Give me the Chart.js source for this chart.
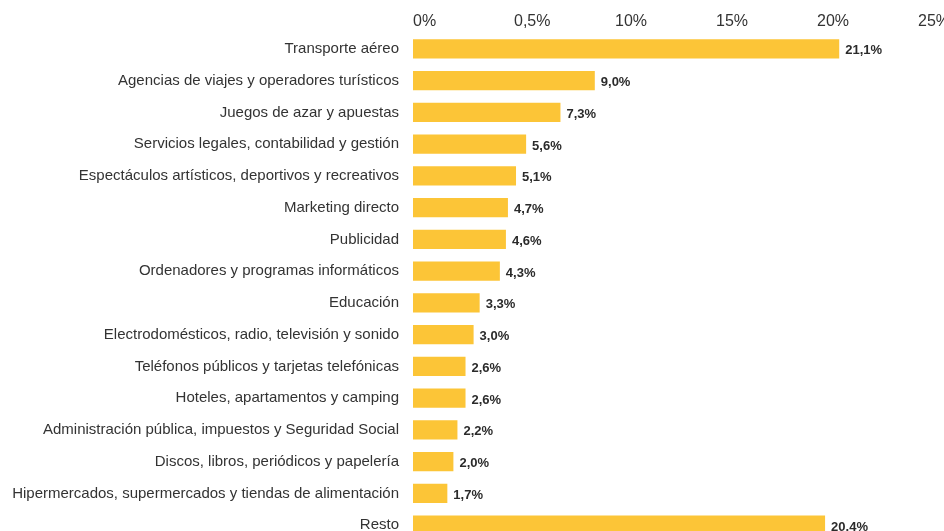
<!DOCTYPE html>
<html>
<head>
<meta charset="utf-8">
<script src="https://cdn.jsdelivr.net/npm/chart.js@4"></script>
<style>
  html, body { margin: 0; padding: 0; background: #fff; overflow: hidden; }
  canvas { display: block; }
</style>
</head>
<body>
<canvas id="chart" width="944" height="564"></canvas>
<script>
const categories = [
  "Transporte aéreo",
  "Agencias de viajes y operadores turísticos",
  "Juegos de azar y apuestas",
  "Servicios legales, contabilidad y gestión",
  "Espectáculos artísticos, deportivos y recreativos",
  "Marketing directo",
  "Publicidad",
  "Ordenadores y programas informáticos",
  "Educación",
  "Electrodomésticos, radio, televisión y sonido",
  "Teléfonos públicos y tarjetas telefónicas",
  "Hoteles, apartamentos y camping",
  "Administración pública, impuestos y Seguridad Social",
  "Discos, libros, periódicos y papelería",
  "Hipermercados, supermercados y tiendas de alimentación",
  "Resto"
];
const values = [21.1, 9.0, 7.3, 5.6, 5.1, 4.7, 4.6, 4.3, 3.3, 3.0, 2.6, 2.6, 2.2, 2.0, 1.7, 20.4];
const tickLabels = ["0%", "0,5%", "10%", "15%", "20%", "25%"];

const FONT = "'Liberation Sans', Arial, sans-serif";

const valueLabels = {
  id: "valueLabels",
  afterDatasetsDraw(chart) {
    const ctx = chart.ctx;
    const meta = chart.getDatasetMeta(0);
    ctx.save();
    ctx.font = "bold 13px " + FONT;
    ctx.fillStyle = "#2b2b2b";
    ctx.textAlign = "left";
    ctx.textBaseline = "middle";
    meta.data.forEach((bar, i) => {
      const txt = values[i].toFixed(1).replace(".", ",") + "%";
      ctx.fillText(txt, bar.x + 6, bar.y + 2);
    });
    ctx.restore();
  }
};

new Chart(document.getElementById("chart"), {
  type: "bar",
  data: {
    labels: categories,
    datasets: [{
      data: values,
      backgroundColor: "#fcc537",
      barPercentage: 0.6,
      categoryPercentage: 1
    }]
  },
  options: {
    indexAxis: "y",
    responsive: false,
    animation: false,
    layout: { padding: { left: 0, right: 26, top: 0, bottom: 0 } },
    plugins: { legend: { display: false }, tooltip: { enabled: false } },
    scales: {
      x: {
        position: "top",
        min: 0,
        max: 25,
        grid: { display: false, drawTicks: false },
        border: { display: false },
        afterFit(s) {
          s.height = 33;
          s.paddingLeft = 0;
          s.paddingRight = 0;
        },
        ticks: {
          stepSize: 5,
          align: "start",
          padding: 2,
          color: "#333",
          font: { family: FONT, size: 16 },
          callback: (v, i) => tickLabels[i]
        }
      },
      y: {
        grid: { display: false, drawTicks: false },
        border: { display: false },
        afterFit(s) { s.width = 413; },
        ticks: {
          padding: 14,
          color: "#333",
          font: { family: FONT, size: 15 }
        }
      }
    }
  },
  plugins: [valueLabels]
});
</script>
</body>
</html>
